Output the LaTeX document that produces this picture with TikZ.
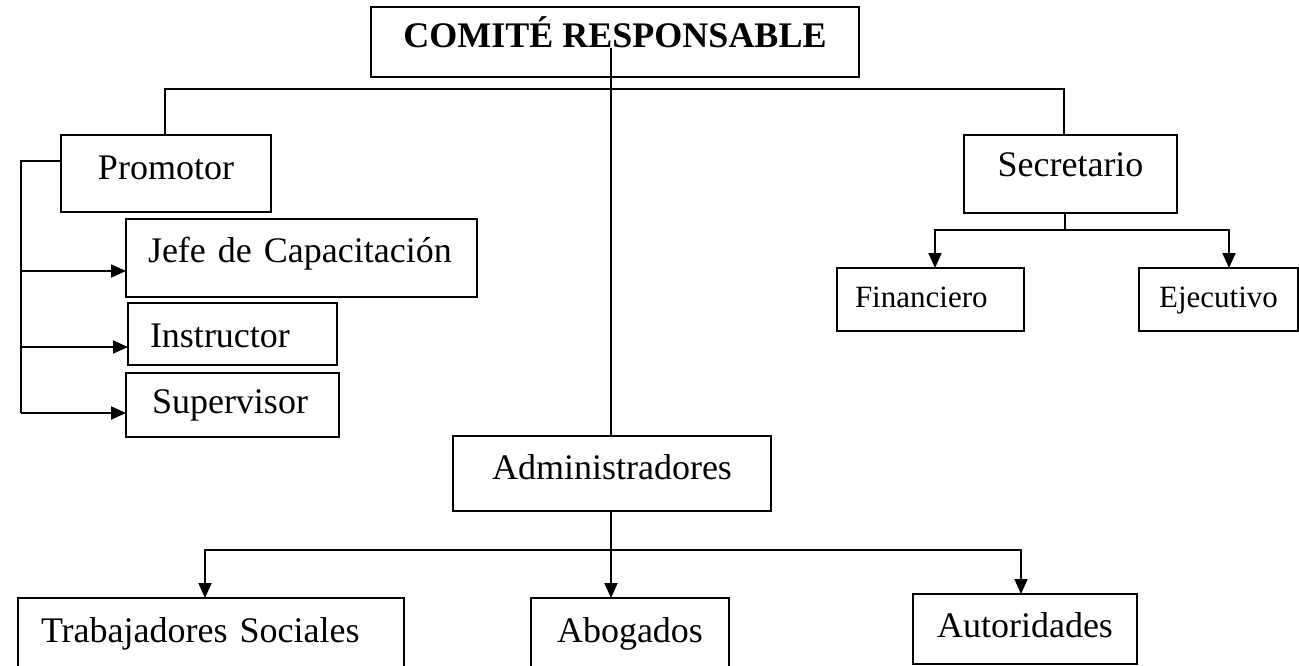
\documentclass[tikz,border=0pt]{standalone}
\usepackage{fontspec}
\setmainfont{Liberation Serif}
\usetikzlibrary{arrows.meta}
\tikzset{
  box/.style={draw, line width=1.8pt, inner sep=0pt, outer sep=0pt, anchor=north},
  lbox/.style={box, align=left},
  conn/.style={line width=1.8pt},
  arr/.style={conn, -{Triangle[length=15pt,width=13pt]}},
  big/.style={font=\fontsize{36}{40}\selectfont},
  small/.style={font=\fontsize{31}{36}\selectfont}
}
\begin{document}
\begin{tikzpicture}[x=1pt,y=-1pt]
\useasboundingbox (0,0) rectangle (1299,666);
% boxes
\node[box, big, minimum width=488pt, text height=41pt, text depth=29pt] (com) at (615,7) {\bfseries COMITÉ RESPONSABLE};
\node[box, big, minimum width=210pt, text height=44pt, text depth=33pt] (prom) at (166,135) {Promotor};
\node[lbox, big, text width=307pt, inner xsep=22pt, text height=43pt, text depth=35pt] (jefe) at (301.5,219) {Jefe de Capacitación};
\node[lbox, big, text width=165pt, inner xsep=22pt, text height=44pt, text depth=18pt] (inst) at (232.5,303) {Instructor};
\node[lbox, big, text width=161pt, inner xsep=26pt, text height=40pt, text depth=24pt] (sup) at (232.5,373) {Supervisor};
\node[box, big, minimum width=213pt, text height=42pt, text depth=36pt] (sec) at (1070.5,135) {Secretario};
\node[lbox, small, text width=151pt, inner xsep=18pt, text height=39pt, text depth=24pt] (fin) at (930.5,268) {Financiero};
\node[box, small, minimum width=159pt, text height=39pt, text depth=24pt] (eje) at (1218.5,268) {Ejecutivo};
\node[box, big, minimum width=318pt, text height=43pt, text depth=32pt] (adm) at (612,436) {Administradores};
\node[lbox, big, text width=340pt, inner xsep=23pt, text height=44pt, text depth=48pt] (trab) at (211,598) {Trabajadores Sociales};
\node[box, big, minimum width=198pt, text height=44pt, text depth=48pt] (abog) at (630,598) {Abogados};
\node[box, big, minimum width=224pt, text height=43pt, text depth=27pt] (aut) at (1025,594) {Autoridades};
% coordinates
\coordinate (cm) at (611,48);
\coordinate (tl) at (165,89);
\coordinate (tr) at (1064,89);
\coordinate (sb) at (1065,230);
\coordinate (fl) at (935,230);
\coordinate (fr) at (1229,230);
\coordinate (pl) at (21,161);
\coordinate (pj) at (21,271);
\coordinate (pi) at (21,347);
\coordinate (ps) at (21,413);
\coordinate (al) at (205,550);
\coordinate (ar) at (1021,550);
\coordinate (ab) at (611,550);
% connectors
\draw[conn] (cm) -- (adm.north -| cm);
\draw[conn] (prom.north -| tl) -- (tl) -- (tr) -- (sec.north -| tr);
\draw[conn] (sec.south -| sb) -- (sb);
\draw[arr] (sb) -- (fl) -- (fin.north -| fl);
\draw[arr] (sb) -- (fr) -- (eje.north -| fr);
\draw[conn] (prom.west |- pl) -- (pl) -- (ps);
\draw[arr] (pj) -- (jefe.west |- pj);
\draw[arr] (pi) -- (inst.west |- pi);
\draw[arr] (ps) -- (sup.west |- ps);
\draw[arr] (adm.south -| ab) -- (abog.north -| ab);
\draw[arr] (ab) -- (al) -- (trab.north -| al);
\draw[arr] (ab) -- (ar) -- (aut.north -| ar);
\end{tikzpicture}
\end{document}
